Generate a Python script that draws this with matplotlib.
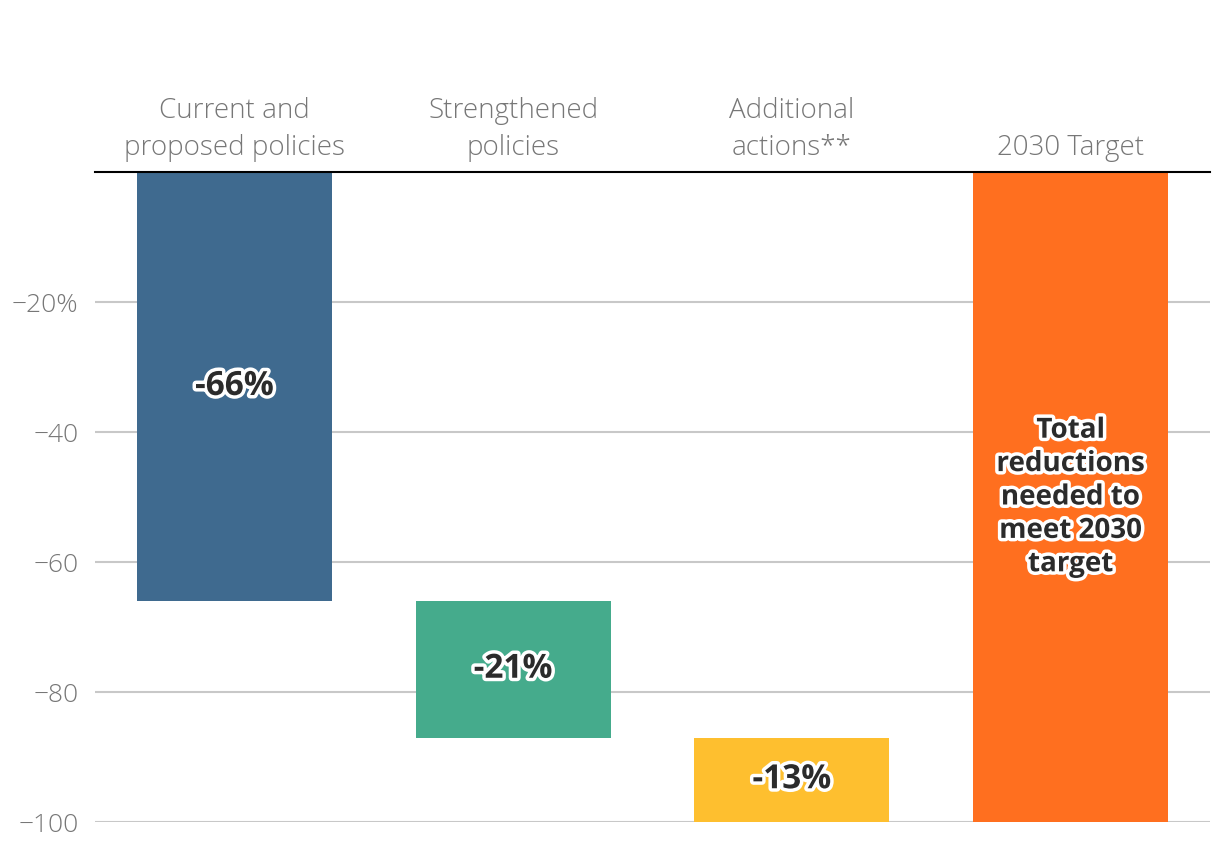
import matplotlib
matplotlib.use("Agg")
import matplotlib.pyplot as plt
import matplotlib.patheffects as pe
import numpy as np

plt.rcParams['font.family'] = ['Open Sans', 'DejaVu Sans']

categories = ["Current and\nproposed policies", "Strengthened\npolicies",
              "Additional\nactions**", "2030 Target"]
starts = [0, -66, -87, 0]
changes = [-66, -21, -13, -100]
bar_labels = ["-66%", "-21%", "-13%", "Total\nreductions\nneeded to\nmeet 2030\ntarget"]
colors = ["#3f6a8f", "#45ab8c", "#febf2f", "#ff6f1f"]
yticks = [-20, -40, -60, -80, -100]
ytick_labels = ["\u221220%", "\u221240", "\u221260", "\u221280", "\u2212100"]

fig = plt.figure(figsize=(12.2, 8.58), dpi=100)
ax = fig.add_axes([95 / 1220, 1 - 822 / 858, 1115 / 1220, 650 / 858])

x = np.arange(len(categories))
ax.bar(x, changes, bottom=starts, width=0.70, color=colors, zorder=2)

outline = [pe.withStroke(linewidth=5, foreground="white")]
for i in range(len(categories)):
    mid = starts[i] + changes[i] / 2
    if i == 3:
        ax.text(x[i], mid, bar_labels[i], ha="center", va="center", fontsize=20,
                fontweight="bold", color="#2b2b2b", linespacing=1.2,
                path_effects=outline, zorder=3)
    else:
        ax.text(x[i], mid, bar_labels[i], ha="center", va="center", fontsize=24,
                fontweight="bold", color="#2b2b2b", path_effects=outline, zorder=3)

ax.set_xlim(-0.5, 3.5)
ax.set_ylim(-100, 0)

ax.xaxis.tick_top()
ax.set_xticks(x)
ax.set_xticklabels(categories, fontsize=20, color="#777777", linespacing=1.45,
                   fontweight="light")
ax.tick_params(axis="x", length=0, pad=7)

ax.set_yticks(yticks)
ax.set_yticklabels(ytick_labels, fontsize=19, color="#777777", fontweight="light")
ax.tick_params(axis="y", length=0, pad=12)
ax.yaxis.grid(True, color="#c8c8c8", linewidth=1.5, zorder=0)
ax.set_axisbelow(True)

for side in ["left", "right", "bottom"]:
    ax.spines[side].set_visible(False)
ax.spines["top"].set_color("black")
ax.spines["top"].set_linewidth(1.5)
ax.spines["top"].set_zorder(4)

fig.savefig("out.png", dpi=100)
